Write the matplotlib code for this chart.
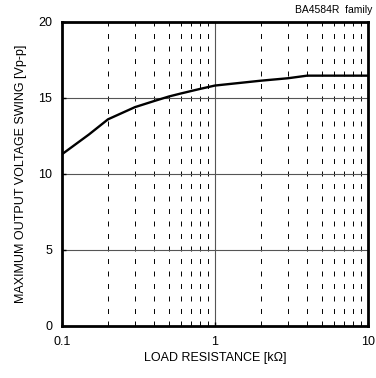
import matplotlib
matplotlib.use("Agg")
import matplotlib.pyplot as plt

plt.rcParams['font.family'] = ['Liberation Sans', 'DejaVu Sans']
plt.rcParams['lines.scale_dashes'] = False

# Load resistance [kΩ] and max output swing [Vp-p]
load_kohm = [0.1, 0.15, 0.2, 0.3, 0.4, 0.5, 0.6, 0.8, 1.0, 2.0, 3.0, 4.0, 10.0]
swing_vpp = [11.3, 12.6, 13.6, 14.4, 14.8, 15.1, 15.3, 15.6, 15.82, 16.14, 16.3, 16.47, 16.47]

x_ticks = [0.1, 1, 10]
x_tick_labels = ["0.1", "1", "10"]
y_ticks = [0, 5, 10, 15, 20]

fig = plt.figure(figsize=(3.76, 3.78), dpi=100)
ax = fig.add_axes([62/376, 1 - 326/378, 306/376, 304/378])

ax.set_xscale('log')
ax.set_xlim(0.1, 10)
ax.set_ylim(0, 20)

# minor decades: dashed verticals
for dec in (0.1, 1):
    for m in range(2, 10):
        ax.axvline(dec * m, color='black', lw=0.7, linestyle=(0, (3.6, 5.4)), zorder=1)
ax.axvline(1, color='#555555', lw=0.8, zorder=1)
for yv in (5, 10, 15):
    ax.axhline(yv, color='#555555', lw=0.8, zorder=1)

ax.plot(load_kohm, swing_vpp, color='black', lw=1.7, zorder=3)

ax.set_xticks(x_ticks)
ax.set_xticklabels(x_tick_labels)
ax.set_yticks(y_ticks)
ax.minorticks_off()
ax.tick_params(direction='in', length=3, width=1, labelsize=9, pad=7)

for s in ax.spines.values():
    s.set_linewidth(2)

ax.set_xlabel("LOAD RESISTANCE [kΩ]", fontsize=9, labelpad=3)
ax.set_ylabel("MAXIMUM OUTPUT VOLTAGE SWING [Vp-p]", fontsize=9, labelpad=8)
fig.text(372/376, 1 - 10/378, "BA4584R  family", ha='right', va='center', fontsize=7.5)

fig.savefig("out.png", dpi=100)
